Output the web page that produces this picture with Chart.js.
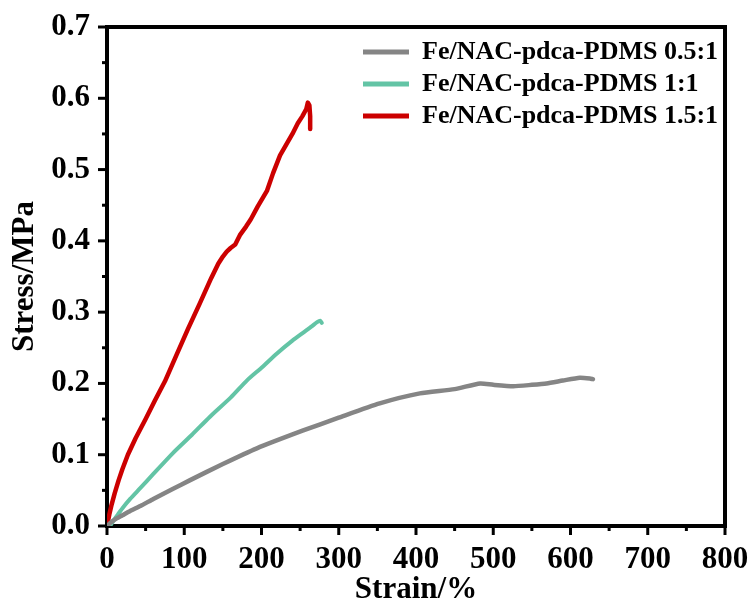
<!DOCTYPE html>
<html>
<head>
<meta charset="utf-8">
<script src="https://cdn.jsdelivr.net/npm/chart.js@4/dist/chart.umd.min.js"></script>
<style>
  html, body { margin: 0; padding: 0; background: #fff; }
  #wrap { width: 754px; height: 605px; }
</style>
</head>
<body>
<div id="wrap"><canvas id="c" width="754" height="605"></canvas></div>
<script>
// ---- data ----
const seriesLabels = ['Fe/NAC-pdca-PDMS 0.5:1', 'Fe/NAC-pdca-PDMS 1:1', 'Fe/NAC-pdca-PDMS 1.5:1'];

const grayStrain = [0, 5, 10, 20, 30, 45, 60, 85, 107, 150, 194, 254, 300, 353, 405, 450, 483, 500, 526, 550, 569, 590, 612, 625, 629];
const grayStress = [0, 0.005, 0.009, 0.015, 0.021, 0.029, 0.038, 0.052, 0.064, 0.087, 0.109, 0.134, 0.152, 0.172, 0.186, 0.192, 0.2, 0.198, 0.196, 0.198, 0.2, 0.204, 0.208, 0.207, 0.206];

const tealStrain = [4, 8, 14, 20, 30, 43, 60, 85, 110, 133, 160, 181, 200, 220, 240, 255, 265, 272, 276, 278];
const tealStress = [0, 0.007, 0.016, 0.025, 0.038, 0.053, 0.073, 0.102, 0.128, 0.153, 0.18, 0.204, 0.222, 0.242, 0.26, 0.272, 0.28, 0.286, 0.288, 0.285];

const redStrain = [0, 3, 6, 10, 15, 20, 27, 37, 50, 62, 75, 90, 105, 120, 135, 144, 150, 155, 160, 166, 172, 180, 186, 195, 207, 215, 224, 232, 240, 247, 253, 258, 260, 262, 263, 263];
const redStress = [0, 0.016, 0.03, 0.046, 0.064, 0.08, 0.1, 0.123, 0.15, 0.176, 0.203, 0.24, 0.277, 0.312, 0.348, 0.368, 0.378, 0.385, 0.39, 0.395, 0.408, 0.42, 0.43, 0.448, 0.47, 0.495, 0.52, 0.535, 0.55, 0.565, 0.575, 0.585, 0.594, 0.59, 0.575, 0.557];

const xTickMin = 0, xTickMax = 800, xTickStep = 100;
const yTickMin = 0, yTickMax = 0.7, yTickStep = 0.1;

const colors = ['#858585', '#63C4A5', '#CC0000'];

function pts(xs, ys) { return xs.map((x, i) => ({ x: x, y: ys[i] })); }

const FONT = "'Liberation Serif', 'Times New Roman', serif";

// frame + major/minor ticks (axes decoration)
const framePlugin = {
  id: 'frame',
  beforeDatasetsDraw(chart) {
    const { ctx, chartArea: a, scales } = chart;
    ctx.save();
    ctx.strokeStyle = '#000';
    ctx.lineWidth = 4;
    ctx.strokeRect(a.left, a.top, a.right - a.left, a.bottom - a.top);
    ctx.lineWidth = 3;
    ctx.lineCap = 'butt';
    const xs = scales.x, ys = scales.y;
    const xt = xs.ticks.map(t => t.value);
    xt.forEach((v, i) => {
      const px = xs.getPixelForValue(v);
      ctx.beginPath(); ctx.moveTo(px, a.bottom); ctx.lineTo(px, a.bottom + 9); ctx.stroke();
      if (i < xt.length - 1) {
        const mx = xs.getPixelForValue((v + xt[i + 1]) / 2);
        ctx.beginPath(); ctx.moveTo(mx, a.bottom); ctx.lineTo(mx, a.bottom + 5); ctx.stroke();
      }
    });
    const yt = ys.ticks.map(t => t.value);
    yt.forEach((v, i) => {
      const py = ys.getPixelForValue(v);
      ctx.beginPath(); ctx.moveTo(a.left, py); ctx.lineTo(a.left - 9, py); ctx.stroke();
      if (i < yt.length - 1) {
        const my = ys.getPixelForValue((v + yt[i + 1]) / 2);
        ctx.beginPath(); ctx.moveTo(a.left, my); ctx.lineTo(a.left - 5, my); ctx.stroke();
      }
    });
    ctx.restore();
  }
};

// place the legend inside the plot, top-right
const legendPlace = {
  id: 'legendPlace',
  beforeDraw(chart) {
    const lg = chart.legend;
    if (!lg) return;
    const a = chart.chartArea;
    const w = lg.width, h = lg.height;
    lg.left = a.left + 250;
    lg.right = lg.left + w;
    lg.top = a.top + 6;
    lg.bottom = lg.top + h;
  }
};

Chart.defaults.color = '#000';

new Chart(document.getElementById('c'), {
  type: 'line',
  data: {
    datasets: [
      { label: seriesLabels[0], data: pts(grayStrain, grayStress), borderColor: colors[0], backgroundColor: colors[0], borderWidth: 4.5, tension: 0.2 },
      { label: seriesLabels[1], data: pts(tealStrain, tealStress), borderColor: colors[1], backgroundColor: colors[1], borderWidth: 4, tension: 0.2 },
      { label: seriesLabels[2], data: pts(redStrain, redStress), borderColor: colors[2], backgroundColor: colors[2], borderWidth: 4.5, tension: 0 }
    ]
  },
  options: {
    responsive: false,
    animation: false,
    devicePixelRatio: 1,
    elements: {
      point: { radius: 0, hoverRadius: 0 },
      line: { borderCapStyle: 'round', borderJoinStyle: 'round', fill: false }
    },
    layout: { padding: { left: 0, top: 27, right: 29, bottom: 0 } },
    scales: {
      x: {
        type: 'linear',
        min: xTickMin, max: xTickMax,
        grid: { display: false, drawTicks: false },
        border: { display: false },
        ticks: {
          stepSize: xTickStep,
          padding: 15,
          font: { family: FONT, size: 31, weight: 'bold' },
          color: '#000',
          maxRotation: 0
        },
        title: {
          display: true, text: 'Strain/%',
          font: { family: FONT, size: 31, weight: 'bold', lineHeight: 1 },
          padding: { top: 0, bottom: 0 },
          color: '#000'
        },
        afterFit(scale) { scale.height = 79; scale.paddingLeft = 0; scale.paddingRight = 0; }
      },
      y: {
        type: 'linear',
        min: yTickMin, max: yTickMax,
        grid: { display: false, drawTicks: false },
        border: { display: false },
        ticks: {
          stepSize: yTickStep,
          padding: 17,
          font: { family: FONT, size: 31, weight: 'bold' },
          color: '#000',
          callback: (v) => Number(v).toFixed(1)
        },
        title: {
          display: true, text: 'Stress/MPa',
          font: { family: FONT, size: 31, weight: 'bold' },
          padding: { top: 6, bottom: 0 },
          color: '#000'
        },
        afterFit(scale) { scale.width = 107; scale.paddingTop = 0; scale.paddingBottom = 0; }
      }
    },
    plugins: {
      tooltip: { enabled: false },
      legend: {
        display: true,
        position: 'chartArea',
        align: 'start',
        labels: {
          boxWidth: 46,
          boxHeight: 5,
          padding: 6,
          color: '#000',
          font: { family: FONT, size: 26, weight: 'bold' },
          generateLabels(chart) {
            return Chart.defaults.plugins.legend.labels.generateLabels(chart).map(l => Object.assign(l, { lineWidth: 0 }));
          }
        }
      }
    }
  },
  plugins: [framePlugin, legendPlace]
});
</script>
</body>
</html>
